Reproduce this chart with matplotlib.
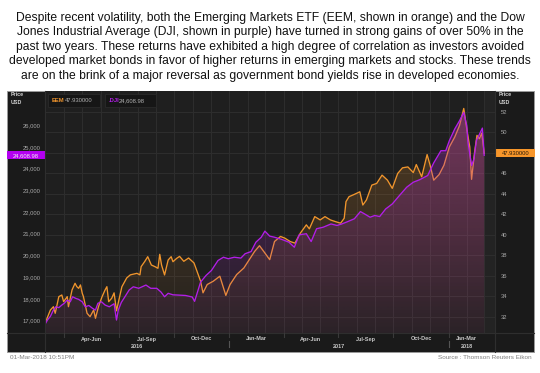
import matplotlib
matplotlib.use("Agg")
import matplotlib.pyplot as plt
import matplotlib.dates as mdates
from matplotlib.patches import Rectangle
from matplotlib.lines import Line2D
from matplotlib.transforms import blended_transform_factory
from matplotlib.colors import to_rgb
import numpy as np
import pandas as pd

plt.rcParams['font.family'] = ['Liberation Sans', 'DejaVu Sans']

# ---- data ----
dji_dates = ["2016-03-01", "2016-03-04", "2016-03-09", "2016-03-14", "2016-03-18", "2016-03-23",
             "2016-03-28", "2016-04-01", "2016-04-06", "2016-04-11", "2016-04-15", "2016-04-20",
             "2016-04-25", "2016-05-01", "2016-05-06", "2016-05-12", "2016-05-18", "2016-05-23",
             "2016-05-27", "2016-06-02", "2016-06-08", "2016-06-15", "2016-06-23", "2016-06-27",
             "2016-06-30", "2016-07-05", "2016-07-11", "2016-07-18", "2016-07-25", "2016-08-03",
             "2016-08-15", "2016-08-23", "2016-09-02", "2016-09-09", "2016-09-15", "2016-09-21",
             "2016-09-29", "2016-10-07", "2016-10-20", "2016-10-31",
             "2016-11-04", "2016-11-14", "2016-11-23", "2016-12-02", "2016-12-13", "2016-12-22",
             "2016-12-30", "2017-01-09", "2017-01-20", "2017-01-27", "2017-02-06", "2017-02-14",
             "2017-02-23", "2017-03-01", "2017-03-09", "2017-03-17", "2017-03-29", "2017-04-10",
             "2017-04-19", "2017-04-27", "2017-05-09", "2017-05-17", "2017-05-26", "2017-06-06",
             "2017-06-19", "2017-06-29", "2017-07-07", "2017-07-17", "2017-07-28", "2017-08-07",
             "2017-08-14", "2017-08-23", "2017-08-31", "2017-09-08", "2017-09-18", "2017-09-29",
             "2017-10-11", "2017-10-23", "2017-11-03", "2017-11-14", "2017-11-27", "2017-12-07",
             "2017-12-19", "2017-12-27", "2018-01-02", "2018-01-11", "2018-01-19", "2018-01-26",
             "2018-01-31", "2018-02-02", "2018-02-08", "2018-02-12", "2018-02-16", "2018-02-26",
             "2018-03-01"]
dji_values = [16880, 17030, 17200, 17490, 17640, 17600,
              17720, 17800, 17950, 17870, 18100, 18030,
              17980, 17870, 17640, 17700, 17570, 17490,
              17800, 17870, 17720, 17640, 17780, 17030,
              17490, 17840, 18100, 18410, 18560, 18490,
              18640, 18490, 18490, 18320,
              18100, 18260, 18190, 18180, 18160, 18090,
              17890, 18780, 19080, 19310, 19770, 19920,
              19850, 19920, 19880, 20080, 20180, 20610,
              20840, 21120, 20890, 20840, 20740, 20610,
              20380, 20950, 21000, 20640, 21230, 21300,
              21450, 21380, 21450, 21560, 21690, 22020,
              21910, 21760, 21840, 21790, 22140, 22370,
              22760, 23140, 23370, 23490, 23680, 24260,
              24820, 24820, 25280, 25820, 26200, 26580,
              25970, 25210, 24140, 24440, 25280, 25860,
              24608.98]

eem_dates = ["2016-03-01", "2016-03-09", "2016-03-14", "2016-03-17", "2016-03-23", "2016-03-28",
             "2016-03-31", "2016-04-06", "2016-04-08", "2016-04-14", "2016-04-19", "2016-04-22",
             "2016-04-25", "2016-04-28", "2016-05-01", "2016-05-03", "2016-05-09", "2016-05-14",
             "2016-05-20", "2016-05-23", "2016-05-28", "2016-06-03", "2016-06-08", "2016-06-11",
             "2016-06-14", "2016-06-19", "2016-06-23", "2016-06-27", "2016-07-01", "2016-07-06",
             "2016-07-14", "2016-07-20", "2016-07-31", "2016-08-05", "2016-08-07", "2016-08-13",
             "2016-08-18", "2016-08-24", "2016-08-30", "2016-09-04", "2016-09-07", "2016-09-10",
             "2016-09-15", "2016-09-21", "2016-09-26", "2016-09-29", "2016-10-05", "2016-10-10",
             "2016-10-17", "2016-10-25", "2016-11-03", "2016-11-10", "2016-11-14",
             "2016-11-18", "2016-11-25", "2016-12-05", "2016-12-16", "2016-12-26", "2017-01-02",
             "2017-01-13", "2017-01-25", "2017-02-03", "2017-02-12", "2017-02-20", "2017-03-01",
             "2017-03-09", "2017-03-17", "2017-03-27", "2017-04-03", "2017-04-12", "2017-04-20",
             "2017-04-29", "2017-05-09", "2017-05-14", "2017-05-23", "2017-06-01", "2017-06-09",
             "2017-06-18", "2017-06-26", "2017-07-05", "2017-07-11", "2017-07-14", "2017-07-19",
             "2017-07-28", "2017-08-06", "2017-08-11", "2017-08-17", "2017-08-26", "2017-09-03",
             "2017-09-12", "2017-09-21", "2017-09-29", "2017-10-08", "2017-10-16", "2017-10-25",
             "2017-11-03", "2017-11-08", "2017-11-17", "2017-11-26", "2017-12-01", "2017-12-07",
             "2017-12-16", "2017-12-24", "2018-01-02", "2018-01-11", "2018-01-19", "2018-01-26",
             "2018-01-31", "2018-02-05", "2018-02-08", "2018-02-13", "2018-02-17", "2018-02-21",
             "2018-02-25", "2018-03-01"]
eem_values = [31.52, 32.68, 33.00, 32.36, 33.98, 34.14,
              33.49, 33.98, 33.00, 34.63, 35.28, 34.95,
              34.79, 35.12, 34.31, 33.98, 32.36, 32.03,
              32.68, 31.87, 33.00, 33.98, 34.63, 34.95,
              33.49, 33.82, 34.35, 32.60, 33.66, 34.95,
              35.80, 36.10, 36.25, 36.10, 36.90, 37.40,
              37.87, 37.06, 36.90, 36.74, 38.10, 37.06,
              36.09, 37.55, 37.87, 37.38, 37.70, 37.90,
              37.42, 37.74, 37.26, 36.13, 35.48,
              34.35, 35.16, 35.48, 35.97, 34.10, 35.16,
              36.13, 36.77, 37.58, 38.39, 38.94, 38.23,
              37.58, 39.35, 39.84, 39.68, 39.35, 39.19,
              40.16, 40.97, 40.58, 41.77, 41.45, 41.77,
              41.45, 41.29, 41.13, 41.61, 43.23, 43.71,
              43.94, 44.19, 42.90, 43.39, 44.84, 45.00,
              45.81, 45.32, 44.52, 45.97, 46.52, 46.61,
              46.06, 46.84, 45.65, 47.81, 46.77, 45.32,
              45.87, 46.77, 48.55, 49.52, 50.65, 52.30,
              50.32, 48.55, 45.40, 48.06, 49.68, 49.35,
              49.90, 47.93]

dji_ticks = [17000, 18000, 19000, 20000, 21000, 22000, 23000, 24000, 25000, 26000]
eem_ticks = [32, 34, 36, 38, 40, 42, 44, 46, 48, 50, 52]
quarter_labels = ["Apr-Jun", "Jul-Sep", "Oct-Dec", "Jan-Mar", "Apr-Jun", "Jul-Sep", "Oct-Dec", "Jan-Mar"]
quarter_starts = ["2016-04-01", "2016-07-01", "2016-10-01", "2017-01-01", "2017-04-01",
                  "2017-07-01", "2017-10-01", "2018-01-01"]
year_labels = ["2016", "2017", "2018"]

title_lines = [
    "Despite recent volatility, both the Emerging Markets ETF (EEM, shown in orange) and the Dow",
    "Jones Industrial Average (DJI, shown in purple) have turned in strong gains of over 50% in the",
    "past two years. These returns have exhibited a high degree of correlation as investors avoided",
    "developed market bonds in favor of higher returns in emerging markets and stocks. These trends",
    "are on the brink of a major reversal as government bond yields rise in developed economies.",
]

ORANGE = "#f0952d"
PURPLE = "#b21ee8"

W, H = 540, 373
fig = plt.figure(figsize=(W / 100, H / 100), dpi=100)
fig.patch.set_facecolor("white")


def fx(px):
    return px / W


def fy(py):
    return 1 - py / H


# dark panel behind everything
fig.patches.append(Rectangle((fx(7), fy(352)), fx(534) - fx(7), fy(91) - fy(352),
                             transform=fig.transFigure, fc="#1a1a1a", ec="#9a9a9a", lw=0.7, zorder=-5))

for i, line in enumerate(title_lines):
    fig.text(0.5, fy(17.5 + i * 14.6), line, ha="center", va="center", fontsize=8.7, color="#111111")

ax = fig.add_axes([fx(45), fy(333), fx(495) - fx(45), fy(91) - fy(333)])
ax.set_facecolor("#1f1f1f")
ax2 = ax.twinx()

d_dji = mdates.date2num(pd.to_datetime(dji_dates))
d_eem = mdates.date2num(pd.to_datetime(eem_dates))
xmin = mdates.date2num(pd.Timestamp("2016-02-29"))
xmax = mdates.date2num(pd.Timestamp("2018-03-19"))
eem_lim = (30.44, 54.0)
dji_lim = (16434, 27566)


def gradient_fill(a, x, y, color, a_top, a_bot, lo, hi, z):
    poly = a.fill_between(x, y, lo, facecolor="none", edgecolor="none")
    path = poly.get_paths()[0]
    img = np.zeros((200, 1, 4))
    img[:, 0, :3] = to_rgb(color)
    img[:, 0, 3] = np.linspace(a_bot, a_top, 200)
    im = a.imshow(img, aspect="auto", extent=[xmin, xmax, lo, hi], origin="lower", zorder=z)
    im.set_clip_path(path, transform=a.transData)


# EEM on the lower axes (right scale), DJI on the twin (left scale)
gradient_fill(ax, d_eem, eem_values, ORANGE, 0.26, 0.03, eem_lim[0], eem_lim[1], 1)
ax.plot(d_eem, eem_values, color=ORANGE, lw=0.95, zorder=2)
gradient_fill(ax2, d_dji, dji_values, "#b42ad2", 0.36, 0.05, dji_lim[0], dji_lim[1], 1)
ax2.plot(d_dji, dji_values, color=PURPLE, lw=0.95, zorder=2)

ax.set_xlim(xmin, xmax)
ax.set_ylim(*eem_lim)
ax2.set_ylim(*dji_lim)

# grid
month_lines = pd.date_range("2016-04-01", "2018-03-01", freq="MS")
for m in month_lines:
    ax.axvline(mdates.date2num(m), color="#2d2d2d", lw=0.8, zorder=0.5)
for t in eem_ticks:
    ax.axhline(t, color="#2d2d2d", lw=0.8, zorder=0.5)
ax.axvspan(mdates.date2num(pd.Timestamp("2018-03-01")), xmax, color="#232323", zorder=0.4, lw=0)

for a in (ax, ax2):
    for s in a.spines.values():
        s.set_visible(False)
    a.set_xticks([])

ax.yaxis.tick_right()
ax.set_yticks(eem_ticks)
# the 48 label sits under the last-value tag
ax.set_yticklabels(["" if t == 48 else str(t) for t in eem_ticks])
ax.tick_params(axis="y", length=0, pad=4, labelsize=4.2, labelcolor="#a8a8a8")
ax2.yaxis.tick_left()
ax2.set_yticks(dji_ticks)
ax2.set_yticklabels([f"{t:,}" for t in dji_ticks])
ax2.tick_params(axis="y", length=0, pad=3, labelsize=4.2, labelcolor="#a8a8a8")

# separators
fig.add_artist(Line2D([fx(45), fx(45)], [fy(91), fy(352)], color="#2e2e2e", lw=0.8))
fig.add_artist(Line2D([fx(495), fx(495)], [fy(91), fy(352)], color="#2e2e2e", lw=0.8))
fig.add_artist(Line2D([fx(7), fx(534)], [fy(333), fy(333)], color="#2e2e2e", lw=0.8))

# axis captions
for xp in (11, 499):
    fig.text(fx(xp), fy(94.5), "Price", fontsize=3.8, color="#d8d8d8", weight="bold", va="center")
    fig.text(fx(xp), fy(103), "USD", fontsize=3.8, color="#d8d8d8", weight="bold", va="center")

# quarter / year labels in the band
bt = blended_transform_factory(ax.transData, fig.transFigure)
qs = [mdates.date2num(pd.Timestamp(q)) for q in quarter_starts]
end = d_dji[-1]
for i, lab in enumerate(quarter_labels):
    q0 = qs[i]
    q1 = qs[i + 1] if i + 1 < len(qs) else end
    fig.text((q0 + q1) / 2, fy(339), lab, transform=bt, ha="center", va="center",
             fontsize=4.0, weight="bold", color="#c8c8c8")
    fig.add_artist(Line2D([q0, q0], [fy(333), fy(337)], transform=bt, color="#3a3a3a", lw=0.8))
year_pos = [(xmin + qs[3]) / 2, (qs[3] + qs[7]) / 2, (qs[7] + end) / 2]
for lab, xp in zip(year_labels, year_pos):
    fig.text(xp, fy(346), lab, transform=bt, ha="center", va="center",
             fontsize=4.0, weight="bold", color="#c8c8c8")
for q in (qs[3], qs[7]):
    fig.add_artist(Line2D([q, q], [fy(341), fy(347)], transform=bt, color="#555555", lw=0.8))

# legend boxes
for x0, x1, name, val, col, off in ((48, 100, "EEM", "47.930000", ORANGE, 12.5),
                                     (105, 156, ".DJI", "24,608.98", PURPLE, 10)):
    fig.patches.append(Rectangle((fx(x0), fy(107)), fx(x1) - fx(x0), fy(94) - fy(107),
                                 transform=fig.transFigure, fc="#161616", ec="#2a2a2a", lw=0.6, zorder=5))
    fig.text(fx(x0 + 4), fy(100.5), name, fontsize=4.2, color=col, weight="bold", va="center", zorder=6)
    fig.text(fx(x0 + 4 + off), fy(100.5), val, fontsize=4.2, color="#b0b0b0", va="center", zorder=6)

# last value tags
lt = blended_transform_factory(ax2.transAxes, ax2.transData)
w_left = (45 - 7) / 450
h_dji = 8 / (242 / (dji_lim[1] - dji_lim[0]))
ax2.add_patch(Rectangle((-w_left, dji_values[-1] - h_dji / 2), w_left, h_dji, transform=lt,
                        fc="#b400f0", ec="none", clip_on=False, zorder=5))
ax2.text(-w_left / 2, dji_values[-1], f"{dji_values[-1]:,.2f}", transform=lt, ha="center", va="center",
         fontsize=4.2, color="#f0f0f0", zorder=6, clip_on=False)
rt = blended_transform_factory(ax.transAxes, ax.transData)
w_right = (535 - 496) / 450
h_eem = 8 / (242 / (eem_lim[1] - eem_lim[0]))
ax.add_patch(Rectangle((1.002, eem_values[-1] - h_eem / 2), w_right, h_eem, transform=rt,
                       fc="#f7962a", ec="none", clip_on=False, zorder=5))
ax.text(1.002 + w_right / 2, eem_values[-1], f"{eem_values[-1]:.6f}", transform=rt, ha="center", va="center",
        fontsize=4.2, color="#2a1a08", zorder=6, clip_on=False)

# footer
fig.text(fx(10), fy(357.5), "01-Mar-2018 10:51PM", fontsize=4.6, color="#808080", va="center")
fig.text(fx(532), fy(357.5), "Source : Thomson Reuters Eikon", fontsize=4.6, color="#808080",
         va="center", ha="right")

fig.savefig("out.png", dpi=100, facecolor="white")
